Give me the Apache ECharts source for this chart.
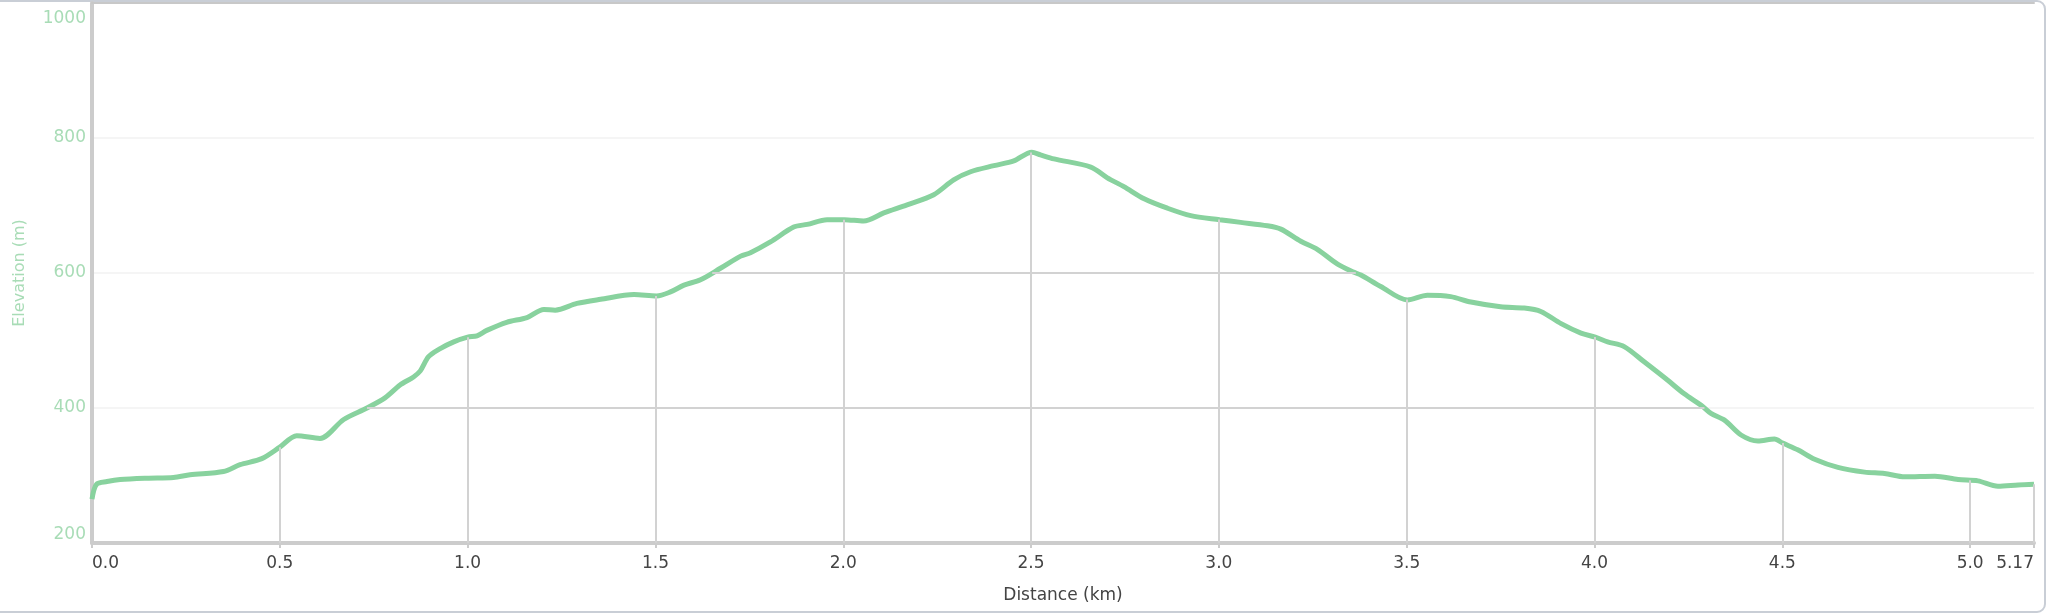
<!DOCTYPE html>
<html>
<head>
<meta charset="utf-8">
<script src="https://cdn.jsdelivr.net/npm/echarts@6/dist/echarts.min.js"></script>
<style>
html,body{margin:0;padding:0;background:#fff;}
#chart{width:2048px;height:616px;}
</style>
</head>
<body>
<div id="chart"></div>
<script>
// Distance along the route (km)
const distance = [
  0.000, 0.012, 0.040, 0.075, 0.146, 0.217, 0.261, 0.350, 0.394, 0.452,
  0.500, 0.545, 0.607, 0.670, 0.732, 0.780, 0.820, 0.856, 0.874, 0.896,
  0.927, 0.963, 1.000, 1.025, 1.051, 1.104, 1.158, 1.203, 1.233, 1.291,
  1.354, 1.443, 1.503, 1.540, 1.576, 1.620, 1.673, 1.727, 1.753, 1.806,
  1.868, 1.904, 1.957, 2.003, 2.054, 2.108, 2.170, 2.241, 2.294, 2.339,
  2.401, 2.454, 2.502, 2.525, 2.561, 2.659, 2.703, 2.747, 2.801, 2.863,
  2.925, 3.002, 3.058, 3.129, 3.165, 3.218, 3.262, 3.316, 3.360, 3.378,
  3.431, 3.502, 3.555, 3.617, 3.671, 3.750, 3.813, 3.857, 3.911, 3.964,
  4.002, 4.035, 4.079, 4.133, 4.195, 4.239, 4.284, 4.310, 4.346, 4.390,
  4.435, 4.479, 4.501, 4.541, 4.586, 4.648, 4.719, 4.772, 4.826, 4.906,
  4.968, 5.021, 5.074, 5.128, 5.170
];
// Elevation (m)
const elevation = [
  265, 287, 291, 294, 296, 297, 301, 306, 316, 325,
  342, 359, 355, 383, 400, 415, 434, 446, 455, 476,
  488, 498, 505, 507, 515, 527, 534, 546, 545, 555,
  561, 568, 566, 572, 582, 590, 607, 625, 630, 646,
  668, 672, 679, 679, 677, 689, 701, 716, 738, 750,
  759, 766, 779, 775, 769, 757, 741, 728, 710, 696,
  685, 679, 675, 670, 665, 647, 635, 613, 601, 597,
  580, 560, 567, 565, 557, 550, 548, 543, 525, 511,
  505, 498, 491, 468, 441, 421, 404, 392, 382, 360,
  351, 354, 348, 338, 324, 312, 305, 303, 298, 299,
  294, 292, 284, 286, 287
];
// Axis ticks
const xTicks = [0.0, 0.5, 1.0, 1.5, 2.0, 2.5, 3.0, 3.5, 4.0, 4.5, 5.0, 5.17];
const yTicks = [200, 400, 600, 800, 1000];
const fillGridLevels = [400, 600];

const xMin = xTicks[0], xMax = xTicks[xTicks.length - 1];
const yMin = yTicks[0], yMax = yTicks[yTicks.length - 1];

function elevAt(x) {
  for (let i = 0; i < distance.length - 1; i++) {
    if (x >= distance[i] && x <= distance[i + 1]) {
      const t = (x - distance[i]) / (distance[i + 1] - distance[i]);
      return elevation[i] + t * (elevation[i + 1] - elevation[i]);
    }
  }
  return elevation[elevation.length - 1];
}

const lineData = distance.map((d, i) => [d, elevation[i]]);

// vertical drop lines from the base up to the profile at each tick
const markData = [];
xTicks.slice(1).forEach(x => {
  markData.push([{ coord: [x, yMin] }, { coord: [x, elevAt(x)] }]);
});
// horizontal grid lines only where the profile is above the level
fillGridLevels.forEach(L => {
  let start = null;
  for (let i = 0; i < distance.length - 1; i++) {
    const a = elevation[i] - L, b = elevation[i + 1] - L;
    if (a <= 0 && b > 0) {
      start = distance[i] + (distance[i + 1] - distance[i]) * (-a) / (b - a);
    } else if (a > 0 && b <= 0 && start !== null) {
      const end = distance[i] + (distance[i + 1] - distance[i]) * a / (a - b);
      markData.push([{ coord: [start, L] }, { coord: [end, L] }]);
      start = null;
    }
  }
});

const green = '#88d29e';
const font = 'DejaVu Sans, Verdana, sans-serif';

const chart = echarts.init(document.getElementById('chart'));
chart.setOption({
  animation: false,
  backgroundColor: '#ffffff',
  grid: { left: 92, right: 14, top: 3, bottom: 73 },
  xAxis: [{
    type: 'value',
    min: xMin, max: xMax, interval: 0.5,
    name: 'Distance (km)',
    nameLocation: 'middle',
    nameGap: 44,
    nameTextStyle: { color: '#444', fontSize: 17, fontFamily: font },
    axisLine: { show: true, lineStyle: { color: '#cccccc', width: 4 } },
    axisTick: { show: true, length: 5, lineStyle: { color: '#cccccc', width: 2 } },
    axisLabel: {
      color: '#444', fontSize: 17, fontFamily: font, margin: 12,
      alignMinLabel: 'left', alignMaxLabel: 'right',
      formatter: v => (Math.abs(v - xMax) < 1e-9 ? v.toFixed(2) : v.toFixed(1))
    },
    splitLine: { show: false }
  }, {
    type: 'value', position: 'top',
    min: xMin, max: xMax,
    axisLine: { show: true, lineStyle: { color: '#c8c8c8', width: 2 } },
    axisTick: { show: false }, axisLabel: { show: false }, splitLine: { show: false }
  }],
  yAxis: {
    type: 'value',
    min: yMin, max: yMax, interval: 200,
    name: 'Elevation (m)',
    nameLocation: 'middle',
    nameGap: 64,
    nameTextStyle: { color: '#a8dcb6', fontSize: 16, fontFamily: font },
    axisLine: { show: true, lineStyle: { color: '#cccccc', width: 4 } },
    axisTick: { show: false },
    axisLabel: {
      color: '#a8dcb6', fontSize: 17, fontFamily: font, margin: 6,
      verticalAlignMinLabel: 'bottom', verticalAlignMaxLabel: 'top',
      formatter: v => (v === yMax ? '{top|' + v + '}' : String(v)),
      rich: {
        top: { color: '#a8dcb6', fontSize: 17, fontFamily: font, padding: [7, 0, 0, 0] }
      }
    },
    splitLine: { show: true, lineStyle: { color: '#f2f2f2', width: 1.5 } }
  },
  series: [{
    type: 'line',
    data: lineData,
    showSymbol: false,
    silent: true,
    lineStyle: { opacity: 0 },
    z: 1,
    markLine: {
      silent: true,
      symbol: ['none', 'none'],
      label: { show: false },
      lineStyle: { color: '#d2d2d2', width: 2, type: 'solid' },
      data: markData
    }
  }, {
    type: 'line',
    data: lineData,
    showSymbol: false,
    smooth: 0.3,
    lineStyle: { color: green, width: 5 },
    itemStyle: { color: green },
    z: 3
  }],
  graphic: [{
    type: 'rect',
    shape: { x: -20, y: 1, width: 2065, height: 611, r: 8 },
    style: { fill: 'none', stroke: '#c9ced6', lineWidth: 2 },
    silent: true,
    z: -1
  }]
});
</script>
</body>
</html>
